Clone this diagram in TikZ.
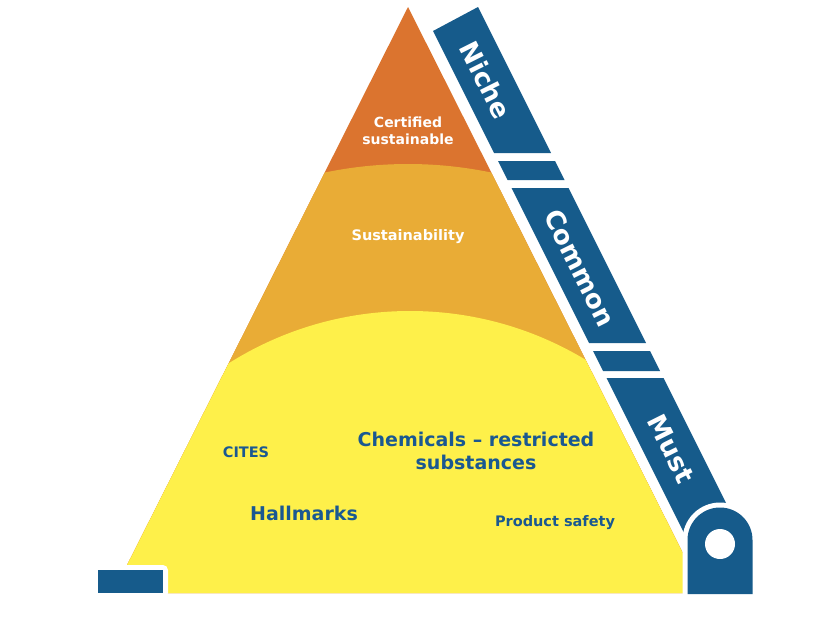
\documentclass[tikz,border=0pt]{standalone}
\usepackage{fontspec}
\setmainfont{DejaVu Sans}
\definecolor{topC}{RGB}{219,116,47}
\definecolor{midC}{RGB}{233,172,54}
\definecolor{botC}{RGB}{254,240,74}
\definecolor{barC}{RGB}{22,91,139}
\definecolor{txtC}{RGB}{26,88,145}
\tikzset{
  wlabel/.style={text=white, font=\bfseries\fontsize{14}{17}\selectfont, align=center, inner sep=0pt},
  blabel/.style={text=txtC, font=\bfseries\fontsize{14.5}{17}\selectfont, align=center, inner sep=0pt},
  biglabel/.style={text=txtC, font=\bfseries\fontsize{19}{23}\selectfont, align=center, inner sep=0pt},
  barlabel/.style={text=white, font=\bfseries\fontsize{26}{30}\selectfont, rotate=-63.43, inner sep=0pt},
  barpart/.style={fill=barC}
}
\begin{document}
\begin{tikzpicture}[x=1pt,y=-1pt]
\useasboundingbox (0,0) rectangle (835,630);
% pyramid
\begin{scope}
\clip (408,7) -- (703,593) -- (113,593) -- cycle;
\fill[topC] (0,0) rectangle (835,630);
\fill[midC] (408,570) circle (406pt);
\fill[botC] (410,651) circle (340pt);
\end{scope}
% side bar
\fill[barpart] (433,31) -- (478,7) -- (551,153) -- (494,153) -- cycle;
\fill[barpart] (498,161) -- (555,161) -- (564.5,180) -- (507.5,180) -- cycle;
\fill[barpart] (511.5,188) -- (568.5,188) -- (646,343) -- (589,343) -- cycle;
\fill[barpart] (593,351) -- (650,351) -- (660,371) -- (603,371) -- cycle;
\fill[barpart] (606.5,378) -- (663.5,378) -- (742,535) -- (685,535) -- cycle;
% bracket
\draw[white, line width=10pt] (687.5,594) -- (687.5,540) arc[start angle=180, end angle=0, radius=32.5pt] -- (752.5,594) -- cycle;
\fill[barC] (687.5,594) -- (687.5,540) arc[start angle=180, end angle=0, radius=32.5pt] -- (752.5,594) -- cycle;
\fill[white] (720,544) circle (15pt);
% bottom-left block
\fill[white, rounded corners=5pt] (93,565) rectangle (168,598);
\fill[barC] (98,570) rectangle (163,593);
% labels
\node[wlabel] (cert) at (408,131) {Certified\\sustainable};
\node[wlabel, font=\bfseries\fontsize{14.5}{17}\selectfont] (sust) at (408,237) {Sustainability};
\node[barlabel] (niche) at (486,80) {Niche};
\node[barlabel] (common) at (580,268) {Common};
\node[barlabel] (must) at (671,449) {Must};
\node[blabel] (cites) at (246,452) {CITES};
\node[biglabel] (chem) at (476,451) {Chemicals – restricted\\substances};
\node[biglabel] (hall) at (304,513) {Hallmarks};
\node[blabel] (prod) at (555,523) {Product safety};
\end{tikzpicture}
\end{document}
